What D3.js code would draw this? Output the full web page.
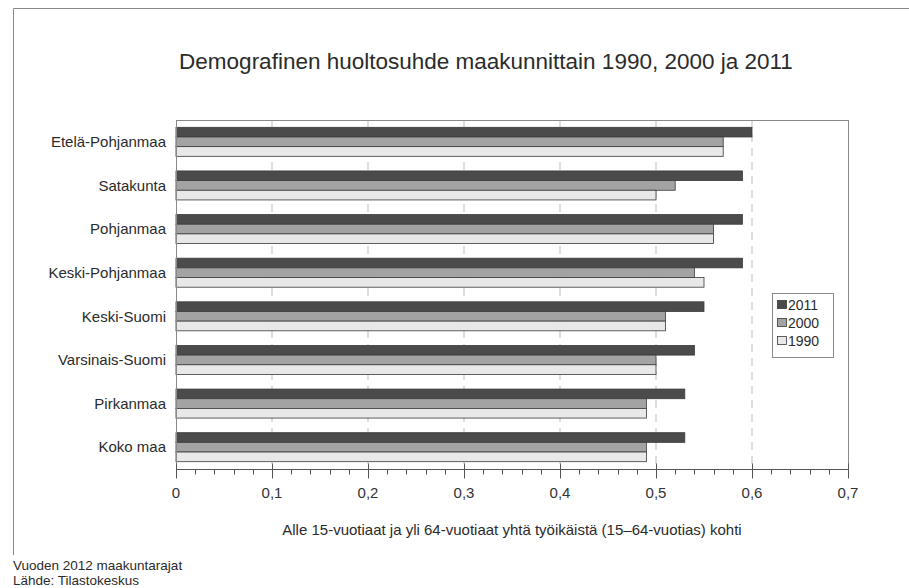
<!DOCTYPE html>
<html>
<head>
<meta charset="utf-8">
<script src="https://cdn.jsdelivr.net/npm/d3@7"></script>
<style>
  body { margin: 0; background: #fff; }
  svg { font-family: "Liberation Sans", Arial, sans-serif; }
</style>
</head>
<body>
<div id="chart"></div>
<script>
// Data
const regions = [
  "Etelä-Pohjanmaa", "Satakunta", "Pohjanmaa", "Keski-Pohjanmaa",
  "Keski-Suomi", "Varsinais-Suomi", "Pirkanmaa", "Koko maa"
];
const years = ["2011", "2000", "1990"];
const values2011 = [0.60, 0.59, 0.59, 0.59, 0.55, 0.54, 0.53, 0.53];
const values2000 = [0.57, 0.52, 0.56, 0.54, 0.51, 0.50, 0.49, 0.49];
const values1990 = [0.57, 0.50, 0.56, 0.55, 0.51, 0.50, 0.49, 0.49];
const xTicks = [0, 0.1, 0.2, 0.3, 0.4, 0.5, 0.6, 0.7];

const seriesByYear = { "2011": values2011, "2000": values2000, "1990": values1990 };

const width = 909, height = 588;
const plot = { left: 176, right: 848, top: 120, bottom: 469 };

const svg = d3.select("#chart").append("svg")
  .attr("width", width).attr("height", height);

// outer frame (left + top only visible)
svg.append("path")
  .attr("d", `M13.5,555 L13.5,8.5 L909,8.5`)
  .style("fill", "none").style("stroke", "#8a8a8a").style("stroke-width", 1);

// Title
svg.append("text")
  .attr("x", 486).attr("y", 69)
  .attr("text-anchor", "middle")
  .style("font-size", "22.5px").style("fill", "#2b2b2b")
  .text("Demografinen huoltosuhde maakunnittain 1990, 2000 ja 2011");

// Scales
const x = d3.scaleLinear().domain([0, 0.7]).range([plot.left, plot.right]);
const y = d3.scaleBand().domain(regions).range([plot.top, plot.bottom]).paddingInner(0.335).paddingOuter(0.1675);
const ySub = d3.scaleBand().domain(years).range([0, y.bandwidth()]);
const color = d3.scaleOrdinal().domain(years).range(["#4b4b4b", "#a3a3a3", "#e8e8e8"]);

// Gridlines
svg.append("g").selectAll("line")
  .data(xTicks.slice(1, -1))
  .join("line")
  .attr("x1", d => x(d)).attr("x2", d => x(d))
  .attr("y1", plot.top).attr("y2", plot.bottom)
  .style("stroke", "#bdbdbd").style("stroke-width", 1)
  .style("stroke-dasharray", "8,6");

// Bars
const groups = svg.append("g").selectAll("g")
  .data(regions)
  .join("g")
  .attr("transform", d => `translate(0,${y(d)})`);

groups.selectAll("rect")
  .data((d, i) => years.map(yr => ({ year: yr, value: seriesByYear[yr][i] })))
  .join("rect")
  .attr("x", x(0))
  .attr("y", d => ySub(d.year))
  .attr("width", d => x(d.value) - x(0))
  .attr("height", ySub.bandwidth())
  .style("fill", d => color(d.year))
  .style("stroke", "#3a3a3a")
  .style("stroke-width", 0.8);

// Plot border
svg.append("rect")
  .attr("x", plot.left + 0.5).attr("y", plot.top + 0.5)
  .attr("width", plot.right - plot.left).attr("height", plot.bottom - plot.top)
  .style("fill", "none").style("stroke", "#8a8a8a").style("stroke-width", 1);

// X axis with minor ticks
const xAxis = svg.append("g").attr("transform", `translate(0,${plot.bottom + 0.5})`);
const minor = d3.range(0, 0.7001, 0.02);
xAxis.selectAll("line.minor")
  .data(minor)
  .join("line").attr("class", "minor")
  .attr("x1", d => Math.round(x(d)) + 0.5).attr("x2", d => Math.round(x(d)) + 0.5)
  .attr("y1", 0).attr("y2", 5)
  .style("stroke", "#555").style("stroke-width", 1);
xAxis.selectAll("line.major")
  .data(xTicks)
  .join("line").attr("class", "major")
  .attr("x1", d => Math.round(x(d)) + 0.5).attr("x2", d => Math.round(x(d)) + 0.5)
  .attr("y1", -6).attr("y2", 9)
  .style("stroke", "#555").style("stroke-width", 1);
xAxis.append("line")
  .attr("x1", plot.left).attr("x2", plot.right)
  .style("stroke", "#555");
xAxis.selectAll("text")
  .data(xTicks)
  .join("text")
  .attr("x", d => x(d)).attr("y", 28)
  .attr("text-anchor", "middle")
  .style("font-size", "15px").style("fill", "#333")
  .text(d => d3.format(".1f")(d).replace(".", ",").replace(/^0,0$/, "0"));

// Y labels
svg.append("g").selectAll("text")
  .data(regions)
  .join("text")
  .attr("x", 166)
  .attr("y", d => y(d) + y.bandwidth() / 2)
  .attr("dy", "0.35em")
  .attr("text-anchor", "end")
  .style("font-size", "15px").style("fill", "#2b2b2b")
  .text(d => d);

// Axis title
svg.append("text")
  .attr("x", 512).attr("y", 535)
  .attr("text-anchor", "middle")
  .style("font-size", "15px").style("fill", "#2b2b2b")
  .text("Alle 15-vuotiaat ja yli 64-vuotiaat yhtä työikäistä (15–64-vuotias) kohti");

// Legend
const legend = svg.append("g").attr("transform", "translate(772,293)");
legend.append("rect")
  .attr("x", 0.5).attr("y", 0.5).attr("width", 61).attr("height", 64)
  .style("fill", "#fff").style("stroke", "#8a8a8a");
years.forEach((yr, i) => {
  legend.append("rect")
    .attr("x", 5.5).attr("y", 7.5 + i * 18).attr("width", 9).attr("height", 8)
    .style("fill", color(yr)).style("stroke", "#3a3a3a").style("stroke-width", 0.8);
  legend.append("text")
    .attr("x", 16).attr("y", 12 + i * 18).attr("dy", "0.35em")
    .style("font-size", "14px").style("fill", "#2b2b2b")
    .text(yr);
});

// Footnotes
svg.append("text")
  .attr("x", 13).attr("y", 570)
  .style("font-size", "13.5px").style("fill", "#2b2b2b")
  .text("Vuoden 2012 maakuntarajat");
svg.append("text")
  .attr("x", 13).attr("y", 585)
  .style("font-size", "13.5px").style("fill", "#2b2b2b")
  .text("Lähde: Tilastokeskus");
</script>
</body>
</html>
